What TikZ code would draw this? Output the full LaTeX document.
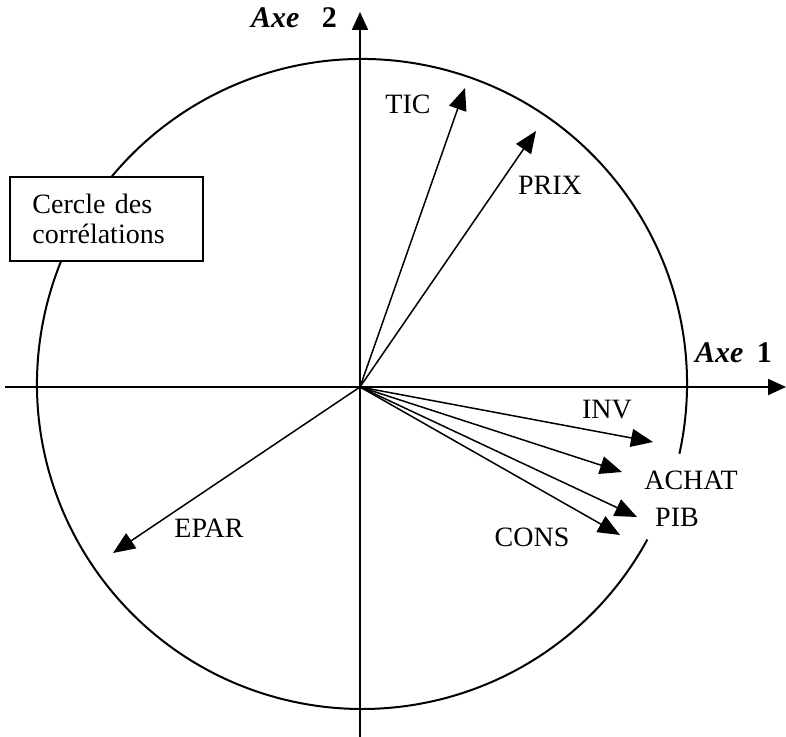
\documentclass[tikz,border=0pt]{standalone}
\usepackage{fontspec}
\setmainfont{Liberation Serif}
\usetikzlibrary{arrows.meta}
\tikzset{
  axis/.style={line width=1pt,-{Triangle[length=9pt,width=8pt]}},
  vec/.style={line width=0.75pt,-{Triangle[length=11pt,width=9pt]}},
  lab/.style={font=\fontsize{14}{15}\selectfont},
  axlab/.style={font=\fontsize{15}{16}\selectfont\bfseries,anchor=east},
  legend/.style={draw,fill=white,line width=1pt,text width=74pt,inner xsep=11pt,
    minimum width=96.5pt,minimum height=42pt,align=left,font=\fontsize{14}{15}\selectfont}
}
\begin{document}
\begin{tikzpicture}[x=0.5pt,y=0.5pt]
\useasboundingbox (-360,-350) rectangle (426,387);

%AXES
\coordinate (O) at (0,0);
\coordinate (xmin) at (-355,0);
\coordinate (xmax) at (426,0);
\coordinate (ymin) at (0,-350);
\coordinate (ymax) at (0,375);
\draw [axis] (xmin) -- (xmax);
\draw [axis] (ymin) -- (ymax);
\node [axlab] (axe1) at (419,34) {\textit{Axe}\hspace{0.45em}1};
\node [axlab] (axe2) at (-16,369) {\textit{Axe}\hspace{0.75em}2};

%CIRCLE (open near ACHAT / PIB)
\coordinate (C) at (2,3);
\draw [line width=1pt] (C) ++(-12.4:325) arc [start angle=-12.4, end angle=331.4, radius=325];

%VECTORS
\foreach \n/\x/\y in {tic/105/299, prix/176/256, inv/293/-55, achat/262/-85,
                      pib/277/-130, cons/260/-148, epar/-247/-166}
{
\coordinate (\n) at (\x,\y);
\draw [vec] (O) -- (\n);
}

%Labels
\foreach \n/\x/\y/\t in {tic/48/283/TIC, prix/190/202/PRIX, inv/247/-23/INV,
                         achat/331/-93/ACHAT, pib/317/-130/PIB, cons/172/-150/CONS,
                         epar/-151/-141/EPAR}
  \node [lab] (\n-lab) at (\x,\y) {\t};

%Legend box
\node [legend] (legend) at (-253.5,168) {Cercle des\\corrélations};

\end{tikzpicture}
\end{document}
